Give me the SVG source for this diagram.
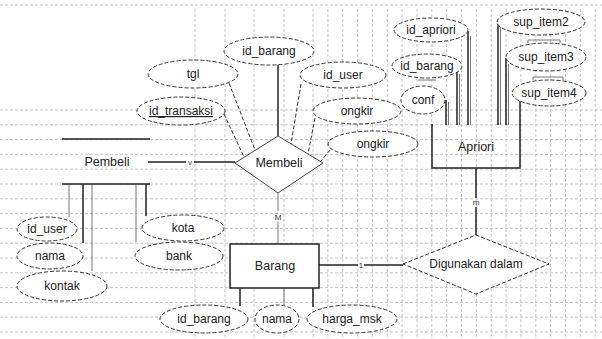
<svg xmlns="http://www.w3.org/2000/svg" width="602" height="339" viewBox="0 0 602 339">
<style>
.grid{fill:none;stroke:#c4c4c4;stroke-width:1;stroke-dasharray:3 2}
.attr{fill:#fff;stroke:#333;stroke-width:1;stroke-dasharray:4 2}
.t{font-family:"Liberation Sans",Arial,sans-serif;font-size:12px;fill:#222;text-anchor:middle}
.big{font-size:12.5px}
.lbl{font-family:"Liberation Sans",Arial,sans-serif;font-size:8px;fill:#333;text-anchor:middle}
.thick{stroke:#222;stroke-width:1.5;fill:none}
.thin{stroke:#777;stroke-width:1;fill:none}
.dash{stroke:#333;stroke-width:1;stroke-dasharray:4 2;fill:none}
</style>
<rect width="602" height="339" fill="#fff"/>
<path class="grid" d="M0 5H602 M0 110H602 M0 124.8H602 M0 139.6H602 M0 154.4H602 M0 169.2H602 M0 184H602 M0 198.8H602 M0 213.6H602 M0 228.4H602 M0 243.2H602 M0 258H602 M0 272.8H602 M0 287.6H602 M0 302.4H602 M0 317.2H602 M0 332H602
M195 9V339 M225 9V339 M254 9V339 M284 9V339 M313 9V339 M327.9 9V339 M342.7 9V339 M357.6 9V339 M372.4 9V339 M387.3 9V339 M402.1 9V339 M417 9V339 M431.8 9V339 M446.7 9V339 M461.5 9V339 M476.4 9V339 M491.2 9V339 M506.1 9V339 M520.9 9V339 M535.8 9V339 M550.6 9V339 M565.5 9V339 M580.3 9V339 M595.2 9V339"/>

<g id="connectors">
  <!-- Pembeli - Membeli -->
  <path class="thick" d="M148 162H186 M194 162H235"/>
  <text class="lbl" x="190" y="165">v</text>
  <!-- Membeli - Barang -->
  <path class="thin" d="M278 193V211 M278 222V244"/>
  <text class="lbl" x="278" y="220">M</text>
  <!-- Barang - Digunakan dalam -->
  <path class="thick" d="M319 265H358 M364 265H403"/>
  <text class="lbl" x="361" y="268">1</text>
  <!-- Apriori - Digunakan dalam -->
  <path class="thick" d="M476 168V198 M476 207V235"/>
  <text class="lbl" x="476" y="205">m</text>
  <!-- Membeli attributes -->
  <path class="thick" d="M278 65V136"/>
  <path class="dash" d="M229 83L255 150 M224 114L244 157 M301 84L291 144 M315 118L308 154 M330 150L321 161"/>
  <!-- Pembeli attributes -->
  <path class="thin" d="M69 184V217 M92 184V271 M136 184V242"/>
  <path class="thick" d="M83 184V243 M146 184V216"/>
  <!-- Barang attributes -->
  <path class="thick" d="M240 288V306 M313 288V307"/>
  <path class="thin" d="M284 288V305"/>
  <!-- Apriori attributes -->
  <path class="thick" d="M446 100V125 M457 72V125 M468 31V125 M498 21V125 M506 58V125 M520 101V125"/>
  <path class="thin" d="M448.5 102V125 M459.5 74V125 M470.5 36V125 M500.5 26V125 M508.5 64V125"/>
  <path class="thin" d="M418 80H436 M528 40H560 M528 40V43 M560 40V43 M533 77H563 M533 77V80 M563 77V80"/>
</g>

<g id="Pembeli">
  <path class="thick" d="M62 139H150 M62 184H150"/>
  <text class="t big" x="107" y="166">Pembeli</text>
</g>
<g id="Membeli">
  <polygon points="235,163 278,136 323,163 278,193" fill="#fff" stroke="#444" stroke-width="1"/>
  <text class="t big" x="279" y="167">Membeli</text>
</g>
<g id="Barang">
  <rect x="230" y="244" width="89" height="44" fill="#fff" stroke="#222" stroke-width="1.5"/>
  <text class="t big" x="275" y="270">Barang</text>
</g>
<g id="Apriori">
  <path class="thick" d="M432 124V168H520V124"/>
  <text class="t big" x="476" y="151">Apriori</text>
</g>
<g id="Digunakan_dalam">
  <polygon points="403,264 476,235 549,264 476,294" fill="#fff" stroke="#333" stroke-width="1" stroke-dasharray="4 2"/>
  <text class="t" x="476" y="268">Digunakan dalam</text>
</g>

<!-- Membeli attributes -->
<g id="m_id_barang"><ellipse class="attr" cx="269" cy="51" rx="45" ry="14"/><text class="t" x="269" y="55">id_barang</text></g>
<g id="m_tgl"><ellipse class="attr" cx="193" cy="74" rx="45" ry="14"/><text class="t" x="193" y="78">tgl</text></g>
<g id="m_id_transaksi"><ellipse class="attr" cx="181" cy="111" rx="44" ry="14"/><text class="t" x="181" y="115" text-decoration="underline">id_transaksi</text></g>
<g id="m_id_user"><ellipse class="attr" cx="343" cy="75" rx="43" ry="13"/><text class="t" x="343" y="79">id_user</text></g>
<g id="m_ongkir1"><ellipse class="attr" cx="357" cy="111" rx="44" ry="13"/><text class="t" x="357" y="115">ongkir</text></g>
<g id="m_ongkir2"><ellipse class="attr" cx="373" cy="144" rx="45" ry="13"/><text class="t" x="373" y="148">ongkir</text></g>

<!-- Pembeli attributes -->
<g id="p_id_user"><ellipse class="attr" cx="47" cy="229" rx="30" ry="12"/><text class="t" x="47" y="233">id_user</text></g>
<g id="p_nama"><ellipse class="attr" cx="50" cy="256" rx="33" ry="13"/><text class="t" x="50" y="260">nama</text></g>
<g id="p_kontak"><ellipse class="attr" cx="62" cy="286" rx="45" ry="15"/><text class="t" x="62" y="290">kontak</text></g>
<g id="p_kota"><ellipse class="attr" cx="183" cy="228" rx="41" ry="13"/><text class="t" x="183" y="232">kota</text></g>
<g id="p_bank"><ellipse class="attr" cx="179" cy="256" rx="44" ry="14"/><text class="t" x="179" y="260">bank</text></g>

<!-- Barang attributes -->
<g id="b_id_barang"><ellipse class="attr" cx="204" cy="319" rx="44" ry="14"/><text class="t" x="204" y="323">id_barang</text></g>
<g id="b_nama"><ellipse class="attr" cx="277" cy="319" rx="22" ry="14"/><text class="t" x="277" y="323">nama</text></g>
<g id="b_harga_msk"><ellipse class="attr" cx="352" cy="319" rx="45" ry="14"/><text class="t" x="352" y="323">harga_msk</text></g>

<!-- Apriori attributes -->
<g id="a_id_apriori"><ellipse class="attr" cx="431" cy="30" rx="37" ry="12"/><text class="t" x="431" y="34">id_apriori</text></g>
<g id="a_id_barang"><ellipse class="attr" cx="427" cy="66" rx="35" ry="12"/><text class="t" x="427" y="70">id_barang</text></g>
<g id="a_conf"><ellipse class="attr" cx="423" cy="100" rx="22" ry="14"/><text class="t" x="423" y="104">conf</text></g>
<g id="a_sup_item2"><ellipse class="attr" cx="541" cy="22" rx="44" ry="13"/><text class="t" x="541" y="26">sup_item2</text></g>
<g id="a_sup_item3"><ellipse class="attr" cx="546" cy="57" rx="40" ry="14"/><text class="t" x="546" y="61">sup_item3</text></g>
<g id="a_sup_item4"><ellipse class="attr" cx="549" cy="93" rx="37" ry="13"/><text class="t" x="549" y="97">sup_item4</text></g>
</svg>
